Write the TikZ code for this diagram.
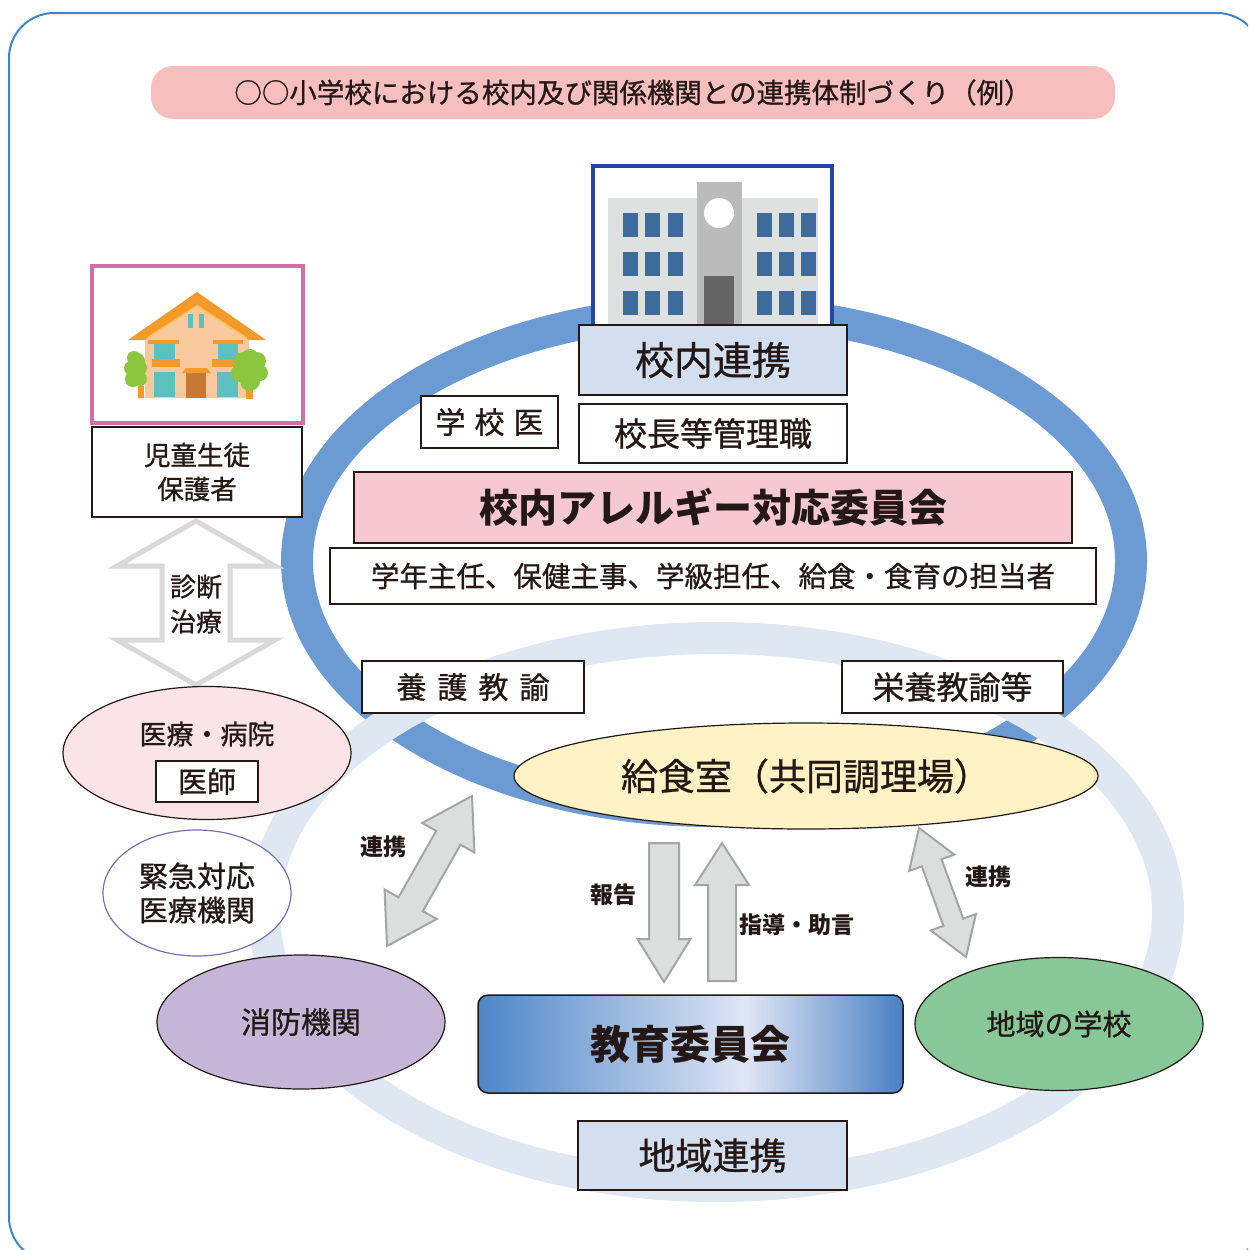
\documentclass[tikz,border=0pt]{standalone}
\usepackage{fontspec}
\setmainfont{Noto Sans CJK JP}[UprightFeatures={FakeBold=0.8}]
\usetikzlibrary{shapes.geometric,calc}

\definecolor{ink}{HTML}{231815}
\definecolor{framec}{HTML}{3A87C8}
\definecolor{titlepink}{HTML}{F6BEBE}
\definecolor{ringblue}{HTML}{6B9BD2}
\definecolor{ringlight}{HTML}{DEE7F2}
\definecolor{paleblue}{HTML}{D3DEEF}
\definecolor{allergypink}{HTML}{F6C8D1}
\definecolor{kitchen}{HTML}{FFF2C4}
\definecolor{hospital}{HTML}{FBE4E8}
\definecolor{emergency}{HTML}{7B6DB4}
\definecolor{fire}{HTML}{C5B6D8}
\definecolor{localschool}{HTML}{87C798}
\definecolor{bldblue}{HTML}{2347A0}
\definecolor{wing}{HTML}{DFE0E0}
\definecolor{tower}{HTML}{BBBBBB}
\definecolor{doorgray}{HTML}{646464}
\definecolor{window}{HTML}{3E6A9C}
\definecolor{homeframe}{HTML}{D56EA6}
\definecolor{roof}{HTML}{F39A2B}
\definecolor{roofline}{HTML}{F8C84E}
\definecolor{wall}{HTML}{F8C99C}
\definecolor{glass}{HTML}{5BC0BE}
\definecolor{doorbrown}{HTML}{C47A35}
\definecolor{leaf}{HTML}{8CC63F}
\definecolor{arrowfill}{HTML}{DCDDDD}
\definecolor{arrowedge}{HTML}{A5A5A5}
\definecolor{outlinegray}{HTML}{D9D9D9}
\definecolor{boeL}{HTML}{4E86C6}
\definecolor{boeM}{HTML}{E0E6F5}
\definecolor{boeR}{HTML}{4A80C4}

\pgfdeclarehorizontalshading{boeshade}{100bp}{color(0bp)=(boeL); color(25bp)=(boeL); color(56.5bp)=(boeM); color(75bp)=(boeR); color(100bp)=(boeR)}

\newcommand{\fs}[2]{\fontsize{#1}{#2}\selectfont}

% double-headed block arrow between two tips
\newcommand{\twowayarrow}[6]{%
  \coordinate (ha) at ($(#1)!#3!(#2)$);
  \coordinate (hb) at ($(#2)!#3!(#1)$);
  \draw[#6] (#1) -- ($(ha)!#4!90:(#1)$) -- ($(ha)!#5!90:(#1)$)
    -- ($(hb)!#5!-90:(#2)$) -- ($(hb)!#4!-90:(#2)$) -- (#2)
    -- ($(hb)!#4!90:(#2)$) -- ($(hb)!#5!90:(#2)$)
    -- ($(ha)!#5!-90:(#1)$) -- ($(ha)!#4!-90:(#1)$) -- cycle;}

% single-headed block arrow from tail to tip
\newcommand{\onewayarrow}[6]{%
  \coordinate (hh) at ($(#2)!#3!(#1)$);
  \draw[#6] ($(#1)!#5!90:(#2)$) -- ($(hh)!#5!90:(#2)$) -- ($(hh)!#4!90:(#2)$)
    -- (#2) -- ($(hh)!#4!-90:(#2)$) -- ($(hh)!#5!-90:(#2)$)
    -- ($(#1)!#5!-90:(#2)$) -- cycle;}

\begin{document}
\begin{tikzpicture}[x=1pt,y=-1pt,
  every node/.style={text=ink, inner sep=0pt},
  box/.style={draw=ink, line width=1.2pt, fill=white, rectangle},
  oval/.style={draw=ink, line width=1.2pt, ellipse},
  blockarrow/.style={fill=arrowfill, draw=arrowedge, line width=2pt, line join=miter},
  hollowarrow/.style={fill=white, draw=outlinegray, line width=5pt, line join=miter},
  lbl/.style={font=\fs{23}{27}\bfseries}
]
\useasboundingbox (0,0) rectangle (1248,1250);

% outer frame
\begin{scope}
  \clip (0,0) rectangle (1248,1250);
  \draw[framec, line width=2pt, rounded corners=45pt] (9,13) rectangle (1262,1262);
\end{scope}

% heading
\node[fill=titlepink, rounded corners=22pt, minimum width=964pt, minimum height=53pt, font=\fs{27.5}{33}] (title) at (633,92.5)
  {○○小学校における校内及び関係機関との連携体制づくり（例）};

% the two rings
\draw[ringblue, line width=32pt] (714,561) ellipse [x radius=417, y radius=250];
\draw[ringlight, line width=32pt] (716,912) ellipse [x radius=452, y radius=274];

% school building
\node[draw=bldblue, line width=4pt, fill=white, minimum width=239pt, minimum height=180pt] (bldg) at (712.5,256) {};
\fill[wing] (608,198) rectangle (818,330);
\fill[tower] (697,182) rectangle (742,330);
\fill[white] (719,213) circle [radius=15];
\fill[doorgray] (704,276) rectangle (734,330);
\foreach \wy in {213,252,291}{
  \foreach \wx in {623,645,668,757,779,801}{
    \fill[window] (\wx,\wy) rectangle ++(15,24);
  }
}

% in-school boxes
\node[box, fill=paleblue, line width=1.5pt, minimum width=268pt, minimum height=70pt, font=\fs{39}{44}] (inschool) at (713,360) {校内連携};
\node[box, minimum width=137pt, minimum height=52pt, font=\fs{30}{34}] (schooldoc) at (489.5,422) {学\hspace{9pt}校\hspace{9pt}医};
\node[box, minimum width=268pt, minimum height=59pt, font=\fs{33}{38}] (principal) at (713,433.5) {校長等管理職};
\node[box, fill=allergypink, minimum width=718pt, minimum height=71pt, font=\fs{39}{44}\bfseries] (committee) at (713,507.5) {校内アレルギー対応委員会};
\node[box, minimum width=766pt, minimum height=56pt, font=\fs{28.5}{33}] (staff) at (713,576) {学年主任、保健主事、学級担任、給食・食育の担当者};
\node[box, minimum width=222pt, minimum height=52pt, font=\fs{30}{34}] (nurse) at (473,687) {養\hspace{11pt}護\hspace{11pt}教\hspace{11pt}諭};
\node[box, minimum width=221pt, minimum height=52pt, font=\fs{32}{36}] (dietitian) at (952.5,687) {栄養教諭等};

% school kitchen
\node[oval, fill=kitchen, minimum width=584pt, minimum height=106pt, font=\fs{37}{42}] (kitchen) at (806,776) {給食室（共同調理場）};

% home
\node[draw=homeframe, line width=4pt, fill=white, minimum width=211pt, minimum height=157pt] (home) at (197.5,344.5) {};
\fill[wall] (145,398) -- (145,339) -- (197,305) -- (249,339) -- (249,398) -- cycle;
\fill[roof] (128,340) -- (197,292) -- (266,340) -- (249,340) -- (197,306) -- (145,340) -- cycle;
\draw[roofline, line width=1.2pt] (147,338) -- (197,305.5) -- (247,338);
\fill[glass] (188,314) rectangle (193,328);
\fill[glass] (199,314) rectangle (204,328);
\fill[roof] (148,340) rectangle (179,344);
\fill[roof] (213,340) rectangle (243,344);
\fill[glass] (154,344) rectangle (175,359);
\fill[glass] (218,344) rectangle (238,359);
\fill[roof] (152,359) rectangle (180,367);
\fill[roof] (212,359) rectangle (237,367);
\fill[glass] (154,372) rectangle (175,397);
\fill[glass] (217,372) rectangle (238,397);
\fill[doorbrown] (186,373) rectangle (206,398);
\fill[roof] (182,373) -- (186,368) -- (207,368) -- (211,373) -- cycle;
\fill[roof] (138,386) rectangle (144,398);
\fill[roof] (246,388) rectangle (253,399);
\fill[leaf] (134,358) circle [radius=7] (131,368) circle [radius=7] (139,368) circle [radius=8]
  (133,379) circle [radius=8] (140,379) circle [radius=7] (137,361) circle [radius=8];
\fill[leaf] (243,361) circle [radius=9] (257,361) circle [radius=9] (250,357) circle [radius=8]
  (240,373) circle [radius=9] (260,373) circle [radius=8] (250,381) circle [radius=10] (250,369) circle [radius=12];

\node[box, minimum width=210pt, minimum height=90pt, align=center, font=\fs{26.5}{34}] (family) at (197,472) {児童生徒\\保護者};

% diagnosis / treatment
\coordinate (dgTop) at (196,521);
\coordinate (dgBot) at (196,685);
\twowayarrow{dgTop}{dgBot}{45pt}{79pt}{34pt}{hollowarrow}
\node[align=center, font=\fs{26}{35}] (diag) at (196,604) {診断\\治療};

% hospital
\node[oval, fill=hospital, minimum width=288pt, minimum height=133pt] (hosp) at (207,753) {};
\node[font=\fs{27}{31}] (hosptext) at (207,734) {医療・病院};
\node[box, line width=2.5pt, minimum width=102pt, minimum height=41pt, font=\fs{29}{33}] (doctor) at (207,781.5) {医師};

% emergency medical institution
\node[ellipse, draw=emergency, line width=1.2pt, fill=white, minimum width=188pt, minimum height=126pt, align=center, font=\fs{29}{34}] (emerg) at (197,893) {緊急対応\\医療機関};

% fire department
\node[oval, fill=fire, minimum width=288pt, minimum height=134pt, font=\fs{30}{34}] (firedept) at (301,1022) {消防機関};

% local schools
\node[oval, fill=localschool, minimum width=288pt, minimum height=133pt, font=\fs{29}{33}] (locals) at (1059,1024) {地域の学校};

% board of education
\node[draw=ink, line width=1.5pt, rounded corners=10pt, shading=boeshade, minimum width=425pt, minimum height=98pt, font=\fs{40}{45}\bfseries] (board) at (690.5,1044) {教育委員会};

% community cooperation
\node[box, fill=paleblue, line width=1.5pt, minimum width=269pt, minimum height=69pt, font=\fs{37}{42}] (community) at (712.5,1155.5) {地域連携};

% block arrows
\coordinate (fireEnd) at (387,946);
\coordinate (kitchenL) at (472,796);
\twowayarrow{kitchenL}{fireEnd}{48pt}{30pt}{14pt}{blockarrow}
\node[lbl] (lnkL) at (383,847) {連携};

\coordinate (kitchenR) at (919,828);
\coordinate (localEnd) at (966,957);
\twowayarrow{kitchenR}{localEnd}{37pt}{24pt}{10.5pt}{blockarrow}
\node[lbl] (lnkR) at (988,877) {連携};

\coordinate (repTail) at (664,843);
\coordinate (repTip) at (664,982);
\onewayarrow{repTail}{repTip}{43pt}{26.5pt}{15pt}{blockarrow}
\node[lbl] (report) at (613,895) {報告};

\coordinate (advTail) at (722,981);
\coordinate (advTip) at (722,843);
\onewayarrow{advTail}{advTip}{42pt}{27pt}{14pt}{blockarrow}
\node[lbl] (advice) at (797,925) {指導・助言};

\end{tikzpicture}
\end{document}
